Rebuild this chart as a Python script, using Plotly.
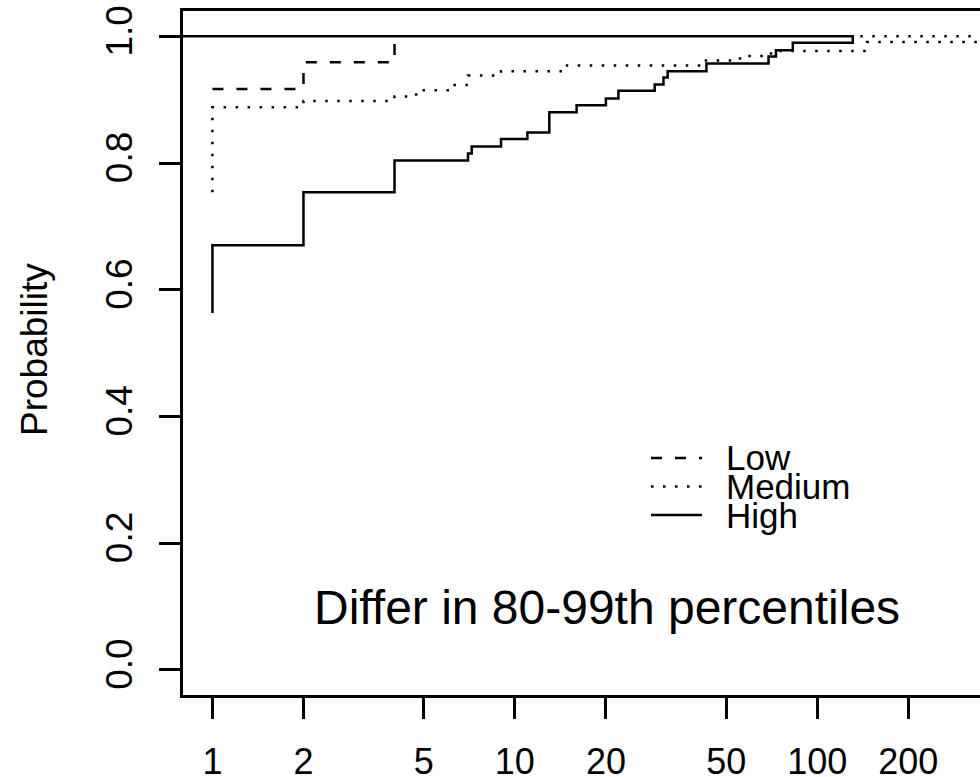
import plotly.graph_objects as go

# ---- data (step functions, drawn as "hv" steps) ----
low_x = [1, 2, 4]
low_y = [0.917, 0.959, 1.0]

medium_x = [1, 1, 2, 4, 4.5, 5, 6.2, 7, 9, 14.5, 42, 54, 58, 69, 75, 146, 1000, 137]
medium_y = [0.754, 0.888, 0.898, 0.905, 0.908, 0.915, 0.923, 0.938, 0.945, 0.954,
            0.962, 0.965, 0.969, 0.973, 0.977, 0.991, 1.0, 1.0]

high_x = [1, 1, 2, 4, 7, 7.2, 9, 11, 13, 16, 20, 22, 29, 31, 32, 43, 69, 73, 83, 131, 0.5]
high_y = [0.563, 0.670, 0.754, 0.804, 0.815, 0.826, 0.838, 0.848, 0.880, 0.891, 0.902,
          0.914, 0.924, 0.935, 0.945, 0.957, 0.968, 0.978, 0.990, 1.0, 1.0]

x_tick_vals = [1, 2, 5, 10, 20, 50, 100, 200]
x_tick_text = ["1", "2", "5", "10", "20", "50", "100", "200"]
y_tick_vals = [0.0, 0.2, 0.4, 0.6, 0.8, 1.0]
y_tick_text = ["0.0", "0.2", "0.4", "0.6", "0.8", "1.0"]

legend_labels = ["Low", "Medium", "High"]
legend_dashes = ["11px,13px", "2.5px,9.5px", "solid"]

title_text = "Differ in 80-99th percentiles"
y_title = "Probability"

FONT = "Liberation Sans, Arial, Helvetica, sans-serif"
W, H = 980, 777
ML, MR, MT, MB = 183, 0, 11, 82
PW = W - ML - MR
PH = H - MT - MB
LW = 2.5


def px_to_paper_x(px):
    return (px - ML) / PW


def px_to_paper_y(py):
    return (H - MB - py) / PH


fig = go.Figure()
series = [(low_x, low_y, legend_dashes[0], legend_labels[0]),
          (medium_x, medium_y, legend_dashes[1], legend_labels[1]),
          (high_x, high_y, legend_dashes[2], legend_labels[2])]
for xs, ys, dash, name in series:
    fig.add_trace(go.Scatter(x=xs, y=ys, mode="lines", name=name,
                             line=dict(shape="hv", color="black", width=LW, dash=dash),
                             showlegend=False, hoverinfo="skip"))

# legend (drawn manually in the R style: samples + labels)
leg_rows_y = [458, 486.5, 515]
for lbl, dash, ry in zip(legend_labels, legend_dashes, leg_rows_y):
    fig.add_shape(type="line", xref="paper", yref="paper",
                  x0=px_to_paper_x(651), x1=px_to_paper_x(702),
                  y0=px_to_paper_y(ry), y1=px_to_paper_y(ry),
                  line=dict(color="black", width=LW, dash=dash))
    fig.add_annotation(text=lbl, xref="paper", yref="paper",
                       x=px_to_paper_x(724), y=px_to_paper_y(ry),
                       xanchor="left", yanchor="middle", showarrow=False,
                       font=dict(family=FONT, size=35, color="black"))

fig.add_annotation(text=title_text, xref="paper", yref="paper",
                   x=px_to_paper_x(312), y=px_to_paper_y(607),
                   xanchor="left", yanchor="middle", showarrow=False,
                   font=dict(family=FONT, size=48, color="black"))

fig.add_annotation(text=y_title, xref="paper", yref="paper",
                   x=px_to_paper_x(34), y=px_to_paper_y(350),
                   xanchor="center", yanchor="middle", textangle=-90, showarrow=False,
                   font=dict(family=FONT, size=37, color="black"))

fig.update_layout(
    width=W, height=H,
    margin=dict(l=ML, r=MR, t=MT, b=MB, pad=0, autoexpand=False),
    paper_bgcolor="white", plot_bgcolor="white",
    font=dict(family=FONT, color="black"),
)
fig.update_xaxes(type="log", range=[-0.0973, 2.538], automargin=False,
                 tickmode="array", tickvals=x_tick_vals, ticktext=x_tick_text,
                 ticks="outside", ticklen=21, tickwidth=LW, tickcolor="black",
                 showline=True, linewidth=LW, linecolor="black", mirror=True,
                 showgrid=False, zeroline=False,
                 tickfont=dict(family=FONT, size=36, color="black"),
                 ticklabelstandoff=12)
fig.update_yaxes(range=[-0.04, 1.04], automargin=False,
                 tickmode="array", tickvals=y_tick_vals, ticktext=y_tick_text,
                 ticks="outside", ticklen=21, tickwidth=LW, tickcolor="black",
                 showline=True, linewidth=LW, linecolor="black", mirror=False,
                 showgrid=False, zeroline=False, tickangle=-90,
                 tickfont=dict(family=FONT, size=37, color="black"),
                 ticklabelstandoff=12)

fig.write_html("out.html",
               config={"displayModeBar": False},
               post_script="document.body.style.margin='0';"
                           "document.body.style.overflow='hidden';")
